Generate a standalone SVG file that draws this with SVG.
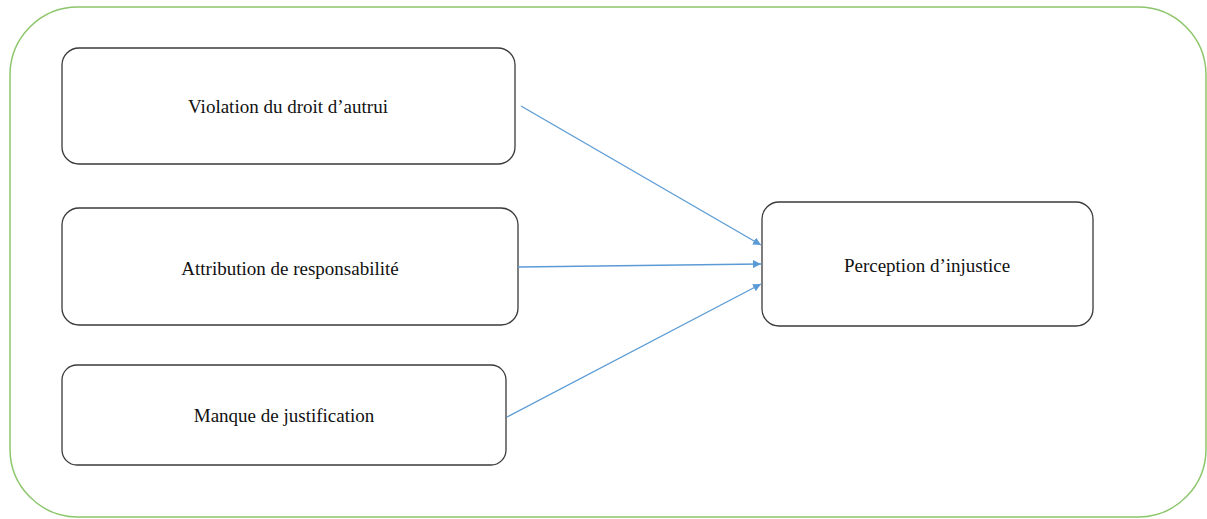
<svg xmlns="http://www.w3.org/2000/svg" width="1207" height="519" viewBox="0 0 1207 519">
<style>
.box{fill:#fff;stroke:#3a3a3a;stroke-width:1.3}
.lbl{font-family:"Liberation Serif","Times New Roman",serif;font-size:19px;fill:#111;text-anchor:middle;dominant-baseline:central}
.conn{stroke:#5b9bd5;stroke-width:1.3;fill:none;marker-end:url(#ah)}
</style>
<defs>
<marker id="ah" viewBox="0 0 10 10" refX="10" refY="5" markerWidth="8" markerHeight="8" markerUnits="userSpaceOnUse" orient="auto">
<path d="M0,0 L10,5 L0,10 z" fill="#5b9bd5"/>
</marker>
</defs>
<rect x="10" y="7" width="1196" height="510" rx="68" ry="68" fill="#fff" stroke="#8cc66a" stroke-width="1.5"/>
<g id="n1"><rect class="box" x="62" y="48" width="453" height="116" rx="17"/><text class="lbl" x="288" y="106">Violation du droit d’autrui</text></g>
<g id="n2"><rect class="box" x="62" y="208" width="456" height="117" rx="17"/><text class="lbl" x="290" y="268">Attribution de responsabilité</text></g>
<g id="n3"><rect class="box" x="62" y="365" width="444" height="100" rx="15"/><text class="lbl" x="284" y="415">Manque de justification</text></g>
<g id="n4"><rect class="box" x="762" y="202" width="331" height="124" rx="17"/><text class="lbl" x="927" y="265">Perception d’injustice</text></g>
<g id="connectors">
<line class="conn" x1="521" y1="106" x2="761" y2="245"/>
<line class="conn" x1="518" y1="267" x2="761" y2="264"/>
<line class="conn" x1="507" y1="417" x2="761" y2="284"/>
</g>
</svg>
